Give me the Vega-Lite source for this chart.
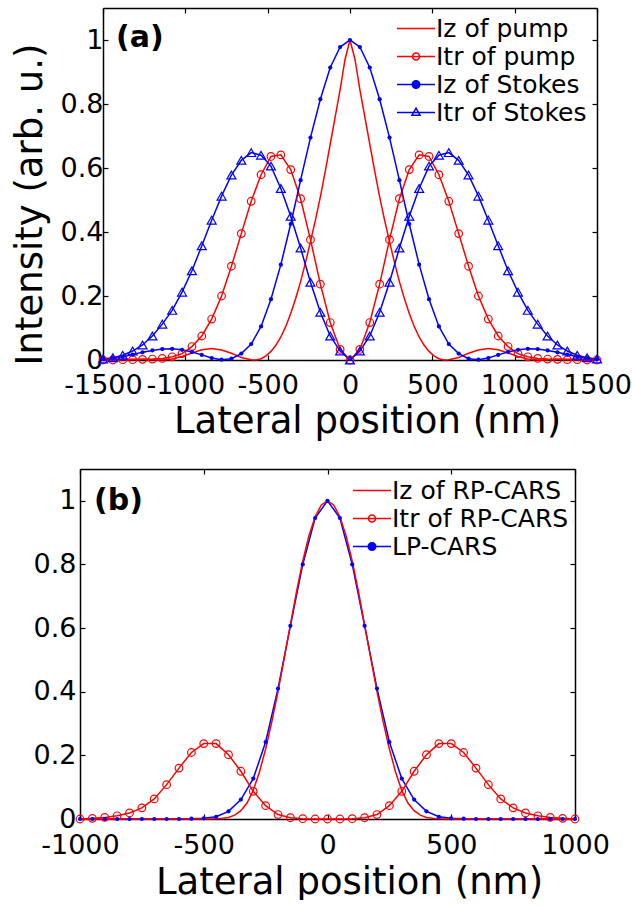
{
  "$schema": "https://vega.github.io/schema/vega-lite/v6.json",
  "background": "white",
  "padding": {"left": 11, "top": 7, "right": 0, "bottom": 0},
  "spacing": 29,
  "columns": 1,
  "resolve": {"scale": {"color": "independent", "shape": "independent"}, "legend": {"color": "independent", "shape": "independent"}},
  "config": {
    "font": "DejaVu Sans",
    "view": {"stroke": null},
    "axis": {"domain": true, "domainColor": "black", "domainWidth": 1.5, "grid": false, "tickColor": "black", "tickSize": -5, "tickWidth": 1.2, "labelFont": "DejaVu Sans", "labelFontSize": 27, "labelColor": "black", "titleFont": "DejaVu Sans", "titleFontSize": 37, "titleFontWeight": "normal", "titleColor": "black", "labelFlush": false, "labelOverlap": false}
  },
  "datasets": {
    "pa": [
      {"s":"Iz of pump","x":-1500,"y":0},{"s":"Iz of pump","x":-1440,"y":0.001},{"s":"Iz of pump","x":-1380,"y":0.002},{"s":"Iz of pump","x":-1320,"y":0.002},{"s":"Iz of pump","x":-1260,"y":0.002},{"s":"Iz of pump","x":-1200,"y":0.001},{"s":"Iz of pump","x":-1140,"y":0},{"s":"Iz of pump","x":-1080,"y":0.003},{"s":"Iz of pump","x":-1020,"y":0.011},{"s":"Iz of pump","x":-960,"y":0.022},{"s":"Iz of pump","x":-900,"y":0.032},{"s":"Iz of pump","x":-840,"y":0.036},{"s":"Iz of pump","x":-780,"y":0.031},{"s":"Iz of pump","x":-720,"y":0.021},{"s":"Iz of pump","x":-660,"y":0.008},{"s":"Iz of pump","x":-600,"y":0.001},{"s":"Iz of pump","x":-570,"y":0},{"s":"Iz of pump","x":-540,"y":0.004},{"s":"Iz of pump","x":-510,"y":0.013},{"s":"Iz of pump","x":-480,"y":0.027},{"s":"Iz of pump","x":-450,"y":0.046},{"s":"Iz of pump","x":-420,"y":0.072},{"s":"Iz of pump","x":-390,"y":0.105},{"s":"Iz of pump","x":-360,"y":0.145},{"s":"Iz of pump","x":-330,"y":0.192},{"s":"Iz of pump","x":-300,"y":0.245},{"s":"Iz of pump","x":-270,"y":0.305},{"s":"Iz of pump","x":-240,"y":0.37},{"s":"Iz of pump","x":-210,"y":0.437},{"s":"Iz of pump","x":-180,"y":0.51},{"s":"Iz of pump","x":-150,"y":0.59},{"s":"Iz of pump","x":-120,"y":0.675},{"s":"Iz of pump","x":-90,"y":0.76},{"s":"Iz of pump","x":-60,"y":0.845},{"s":"Iz of pump","x":-30,"y":0.94},{"s":"Iz of pump","x":0,"y":1},{"s":"Iz of pump","x":30,"y":0.94},{"s":"Iz of pump","x":60,"y":0.845},{"s":"Iz of pump","x":90,"y":0.76},{"s":"Iz of pump","x":120,"y":0.675},{"s":"Iz of pump","x":150,"y":0.59},{"s":"Iz of pump","x":180,"y":0.51},{"s":"Iz of pump","x":210,"y":0.437},{"s":"Iz of pump","x":240,"y":0.37},{"s":"Iz of pump","x":270,"y":0.305},{"s":"Iz of pump","x":300,"y":0.245},{"s":"Iz of pump","x":330,"y":0.192},{"s":"Iz of pump","x":360,"y":0.145},{"s":"Iz of pump","x":390,"y":0.105},{"s":"Iz of pump","x":420,"y":0.072},{"s":"Iz of pump","x":450,"y":0.046},{"s":"Iz of pump","x":480,"y":0.027},{"s":"Iz of pump","x":510,"y":0.013},{"s":"Iz of pump","x":540,"y":0.004},{"s":"Iz of pump","x":570,"y":0},{"s":"Iz of pump","x":600,"y":0.001},{"s":"Iz of pump","x":660,"y":0.008},{"s":"Iz of pump","x":720,"y":0.021},{"s":"Iz of pump","x":780,"y":0.031},{"s":"Iz of pump","x":840,"y":0.036},{"s":"Iz of pump","x":900,"y":0.032},{"s":"Iz of pump","x":960,"y":0.022},{"s":"Iz of pump","x":1020,"y":0.011},{"s":"Iz of pump","x":1080,"y":0.003},{"s":"Iz of pump","x":1140,"y":0},{"s":"Iz of pump","x":1200,"y":0.001},{"s":"Iz of pump","x":1260,"y":0.002},{"s":"Iz of pump","x":1320,"y":0.002},{"s":"Iz of pump","x":1380,"y":0.002},{"s":"Iz of pump","x":1440,"y":0.001},{"s":"Iz of pump","x":1500,"y":0},

      {"s":"Itr of pump","x":-1500,"y":0},{"s":"Itr of pump","x":-1440,"y":0},{"s":"Itr of pump","x":-1380,"y":0.001},{"s":"Itr of pump","x":-1320,"y":0.001},{"s":"Itr of pump","x":-1260,"y":0.002},{"s":"Itr of pump","x":-1200,"y":0.003},{"s":"Itr of pump","x":-1140,"y":0.005},{"s":"Itr of pump","x":-1080,"y":0.01},{"s":"Itr of pump","x":-1020,"y":0.02},{"s":"Itr of pump","x":-960,"y":0.042},{"s":"Itr of pump","x":-900,"y":0.075},{"s":"Itr of pump","x":-840,"y":0.128},{"s":"Itr of pump","x":-780,"y":0.2},{"s":"Itr of pump","x":-720,"y":0.293},{"s":"Itr of pump","x":-660,"y":0.395},{"s":"Itr of pump","x":-600,"y":0.496},{"s":"Itr of pump","x":-540,"y":0.579},{"s":"Itr of pump","x":-480,"y":0.636},{"s":"Itr of pump","x":-420,"y":0.641},{"s":"Itr of pump","x":-360,"y":0.595},{"s":"Itr of pump","x":-300,"y":0.504},{"s":"Itr of pump","x":-240,"y":0.376},{"s":"Itr of pump","x":-180,"y":0.237},{"s":"Itr of pump","x":-120,"y":0.117},{"s":"Itr of pump","x":-60,"y":0.033},{"s":"Itr of pump","x":0,"y":0},{"s":"Itr of pump","x":60,"y":0.033},{"s":"Itr of pump","x":120,"y":0.117},{"s":"Itr of pump","x":180,"y":0.237},{"s":"Itr of pump","x":240,"y":0.376},{"s":"Itr of pump","x":300,"y":0.504},{"s":"Itr of pump","x":360,"y":0.595},{"s":"Itr of pump","x":420,"y":0.641},{"s":"Itr of pump","x":480,"y":0.636},{"s":"Itr of pump","x":540,"y":0.579},{"s":"Itr of pump","x":600,"y":0.496},{"s":"Itr of pump","x":660,"y":0.395},{"s":"Itr of pump","x":720,"y":0.293},{"s":"Itr of pump","x":780,"y":0.2},{"s":"Itr of pump","x":840,"y":0.128},{"s":"Itr of pump","x":900,"y":0.075},{"s":"Itr of pump","x":960,"y":0.042},{"s":"Itr of pump","x":1020,"y":0.02},{"s":"Itr of pump","x":1080,"y":0.01},{"s":"Itr of pump","x":1140,"y":0.005},{"s":"Itr of pump","x":1200,"y":0.003},{"s":"Itr of pump","x":1260,"y":0.002},{"s":"Itr of pump","x":1320,"y":0.001},{"s":"Itr of pump","x":1380,"y":0.001},{"s":"Itr of pump","x":1440,"y":0},{"s":"Itr of pump","x":1500,"y":0},

      {"s":"Iz of Stokes","x":-1500,"y":0.002},{"s":"Iz of Stokes","x":-1440,"y":0.005},{"s":"Iz of Stokes","x":-1380,"y":0.01},{"s":"Iz of Stokes","x":-1320,"y":0.017},{"s":"Iz of Stokes","x":-1260,"y":0.024},{"s":"Iz of Stokes","x":-1200,"y":0.03},{"s":"Iz of Stokes","x":-1140,"y":0.034},{"s":"Iz of Stokes","x":-1080,"y":0.035},{"s":"Iz of Stokes","x":-1020,"y":0.032},{"s":"Iz of Stokes","x":-960,"y":0.025},{"s":"Iz of Stokes","x":-900,"y":0.016},{"s":"Iz of Stokes","x":-840,"y":0.006},{"s":"Iz of Stokes","x":-780,"y":0.001},{"s":"Iz of Stokes","x":-720,"y":0.004},{"s":"Iz of Stokes","x":-660,"y":0.02},{"s":"Iz of Stokes","x":-600,"y":0.05},{"s":"Iz of Stokes","x":-540,"y":0.105},{"s":"Iz of Stokes","x":-480,"y":0.19},{"s":"Iz of Stokes","x":-420,"y":0.298},{"s":"Iz of Stokes","x":-360,"y":0.425},{"s":"Iz of Stokes","x":-300,"y":0.562},{"s":"Iz of Stokes","x":-240,"y":0.695},{"s":"Iz of Stokes","x":-180,"y":0.815},{"s":"Iz of Stokes","x":-120,"y":0.914},{"s":"Iz of Stokes","x":-60,"y":0.978},{"s":"Iz of Stokes","x":0,"y":1},{"s":"Iz of Stokes","x":60,"y":0.978},{"s":"Iz of Stokes","x":120,"y":0.914},{"s":"Iz of Stokes","x":180,"y":0.815},{"s":"Iz of Stokes","x":240,"y":0.695},{"s":"Iz of Stokes","x":300,"y":0.562},{"s":"Iz of Stokes","x":360,"y":0.425},{"s":"Iz of Stokes","x":420,"y":0.298},{"s":"Iz of Stokes","x":480,"y":0.19},{"s":"Iz of Stokes","x":540,"y":0.105},{"s":"Iz of Stokes","x":600,"y":0.05},{"s":"Iz of Stokes","x":660,"y":0.02},{"s":"Iz of Stokes","x":720,"y":0.004},{"s":"Iz of Stokes","x":780,"y":0.001},{"s":"Iz of Stokes","x":840,"y":0.006},{"s":"Iz of Stokes","x":900,"y":0.016},{"s":"Iz of Stokes","x":960,"y":0.025},{"s":"Iz of Stokes","x":1020,"y":0.032},{"s":"Iz of Stokes","x":1080,"y":0.035},{"s":"Iz of Stokes","x":1140,"y":0.034},{"s":"Iz of Stokes","x":1200,"y":0.03},{"s":"Iz of Stokes","x":1260,"y":0.024},{"s":"Iz of Stokes","x":1320,"y":0.017},{"s":"Iz of Stokes","x":1380,"y":0.01},{"s":"Iz of Stokes","x":1440,"y":0.005},{"s":"Iz of Stokes","x":1500,"y":0.002},

      {"s":"Itr of Stokes","x":-1500,"y":0.003},{"s":"Itr of Stokes","x":-1440,"y":0.007},{"s":"Itr of Stokes","x":-1380,"y":0.015},{"s":"Itr of Stokes","x":-1320,"y":0.028},{"s":"Itr of Stokes","x":-1260,"y":0.047},{"s":"Itr of Stokes","x":-1200,"y":0.075},{"s":"Itr of Stokes","x":-1140,"y":0.112},{"s":"Itr of Stokes","x":-1080,"y":0.155},{"s":"Itr of Stokes","x":-1020,"y":0.212},{"s":"Itr of Stokes","x":-960,"y":0.279},{"s":"Itr of Stokes","x":-900,"y":0.357},{"s":"Itr of Stokes","x":-840,"y":0.437},{"s":"Itr of Stokes","x":-780,"y":0.512},{"s":"Itr of Stokes","x":-720,"y":0.578},{"s":"Itr of Stokes","x":-660,"y":0.624},{"s":"Itr of Stokes","x":-600,"y":0.648},{"s":"Itr of Stokes","x":-540,"y":0.64},{"s":"Itr of Stokes","x":-480,"y":0.606},{"s":"Itr of Stokes","x":-420,"y":0.536},{"s":"Itr of Stokes","x":-360,"y":0.449},{"s":"Itr of Stokes","x":-300,"y":0.35},{"s":"Itr of Stokes","x":-240,"y":0.243},{"s":"Itr of Stokes","x":-180,"y":0.149},{"s":"Itr of Stokes","x":-120,"y":0.075},{"s":"Itr of Stokes","x":-60,"y":0.028},{"s":"Itr of Stokes","x":0,"y":0},{"s":"Itr of Stokes","x":60,"y":0.028},{"s":"Itr of Stokes","x":120,"y":0.075},{"s":"Itr of Stokes","x":180,"y":0.149},{"s":"Itr of Stokes","x":240,"y":0.243},{"s":"Itr of Stokes","x":300,"y":0.35},{"s":"Itr of Stokes","x":360,"y":0.449},{"s":"Itr of Stokes","x":420,"y":0.536},{"s":"Itr of Stokes","x":480,"y":0.606},{"s":"Itr of Stokes","x":540,"y":0.64},{"s":"Itr of Stokes","x":600,"y":0.648},{"s":"Itr of Stokes","x":660,"y":0.624},{"s":"Itr of Stokes","x":720,"y":0.578},{"s":"Itr of Stokes","x":780,"y":0.512},{"s":"Itr of Stokes","x":840,"y":0.437},{"s":"Itr of Stokes","x":900,"y":0.357},{"s":"Itr of Stokes","x":960,"y":0.279},{"s":"Itr of Stokes","x":1020,"y":0.212},{"s":"Itr of Stokes","x":1080,"y":0.155},{"s":"Itr of Stokes","x":1140,"y":0.112},{"s":"Itr of Stokes","x":1200,"y":0.075},{"s":"Itr of Stokes","x":1260,"y":0.047},{"s":"Itr of Stokes","x":1320,"y":0.028},{"s":"Itr of Stokes","x":1380,"y":0.015},{"s":"Itr of Stokes","x":1440,"y":0.007},{"s":"Itr of Stokes","x":1500,"y":0.003}
    ],
    "pb": [
      {"s":"Iz of RP-CARS","x":-1000,"y":0},{"s":"Iz of RP-CARS","x":-900,"y":0},{"s":"Iz of RP-CARS","x":-800,"y":0},{"s":"Iz of RP-CARS","x":-700,"y":0},{"s":"Iz of RP-CARS","x":-600,"y":0},{"s":"Iz of RP-CARS","x":-500,"y":0},{"s":"Iz of RP-CARS","x":-450,"y":0.001},{"s":"Iz of RP-CARS","x":-425,"y":0.002},{"s":"Iz of RP-CARS","x":-400,"y":0.005},{"s":"Iz of RP-CARS","x":-375,"y":0.012},{"s":"Iz of RP-CARS","x":-350,"y":0.026},{"s":"Iz of RP-CARS","x":-325,"y":0.05},{"s":"Iz of RP-CARS","x":-300,"y":0.09},{"s":"Iz of RP-CARS","x":-275,"y":0.148},{"s":"Iz of RP-CARS","x":-250,"y":0.22},{"s":"Iz of RP-CARS","x":-225,"y":0.305},{"s":"Iz of RP-CARS","x":-200,"y":0.4},{"s":"Iz of RP-CARS","x":-175,"y":0.505},{"s":"Iz of RP-CARS","x":-150,"y":0.61},{"s":"Iz of RP-CARS","x":-125,"y":0.715},{"s":"Iz of RP-CARS","x":-100,"y":0.81},{"s":"Iz of RP-CARS","x":-75,"y":0.89},{"s":"Iz of RP-CARS","x":-50,"y":0.95},{"s":"Iz of RP-CARS","x":-25,"y":0.987},{"s":"Iz of RP-CARS","x":0,"y":1},{"s":"Iz of RP-CARS","x":25,"y":0.987},{"s":"Iz of RP-CARS","x":50,"y":0.95},{"s":"Iz of RP-CARS","x":75,"y":0.89},{"s":"Iz of RP-CARS","x":100,"y":0.81},{"s":"Iz of RP-CARS","x":125,"y":0.715},{"s":"Iz of RP-CARS","x":150,"y":0.61},{"s":"Iz of RP-CARS","x":175,"y":0.505},{"s":"Iz of RP-CARS","x":200,"y":0.4},{"s":"Iz of RP-CARS","x":225,"y":0.305},{"s":"Iz of RP-CARS","x":250,"y":0.22},{"s":"Iz of RP-CARS","x":275,"y":0.148},{"s":"Iz of RP-CARS","x":300,"y":0.09},{"s":"Iz of RP-CARS","x":325,"y":0.05},{"s":"Iz of RP-CARS","x":350,"y":0.026},{"s":"Iz of RP-CARS","x":375,"y":0.012},{"s":"Iz of RP-CARS","x":400,"y":0.005},{"s":"Iz of RP-CARS","x":425,"y":0.002},{"s":"Iz of RP-CARS","x":450,"y":0.001},{"s":"Iz of RP-CARS","x":500,"y":0},{"s":"Iz of RP-CARS","x":600,"y":0},{"s":"Iz of RP-CARS","x":700,"y":0},{"s":"Iz of RP-CARS","x":800,"y":0},{"s":"Iz of RP-CARS","x":900,"y":0},{"s":"Iz of RP-CARS","x":1000,"y":0},

      {"s":"Itr of RP-CARS","x":-1000,"y":0},{"s":"Itr of RP-CARS","x":-950,"y":0.002},{"s":"Itr of RP-CARS","x":-900,"y":0.005},{"s":"Itr of RP-CARS","x":-850,"y":0.01},{"s":"Itr of RP-CARS","x":-800,"y":0.019},{"s":"Itr of RP-CARS","x":-750,"y":0.035},{"s":"Itr of RP-CARS","x":-700,"y":0.063},{"s":"Itr of RP-CARS","x":-650,"y":0.108},{"s":"Itr of RP-CARS","x":-600,"y":0.16},{"s":"Itr of RP-CARS","x":-550,"y":0.209},{"s":"Itr of RP-CARS","x":-500,"y":0.237},{"s":"Itr of RP-CARS","x":-450,"y":0.237},{"s":"Itr of RP-CARS","x":-400,"y":0.202},{"s":"Itr of RP-CARS","x":-350,"y":0.15},{"s":"Itr of RP-CARS","x":-300,"y":0.087},{"s":"Itr of RP-CARS","x":-250,"y":0.042},{"s":"Itr of RP-CARS","x":-200,"y":0.014},{"s":"Itr of RP-CARS","x":-150,"y":0.004},{"s":"Itr of RP-CARS","x":-100,"y":0.001},{"s":"Itr of RP-CARS","x":-50,"y":0},{"s":"Itr of RP-CARS","x":0,"y":0},{"s":"Itr of RP-CARS","x":50,"y":0},{"s":"Itr of RP-CARS","x":100,"y":0.001},{"s":"Itr of RP-CARS","x":150,"y":0.004},{"s":"Itr of RP-CARS","x":200,"y":0.014},{"s":"Itr of RP-CARS","x":250,"y":0.042},{"s":"Itr of RP-CARS","x":300,"y":0.087},{"s":"Itr of RP-CARS","x":350,"y":0.15},{"s":"Itr of RP-CARS","x":400,"y":0.202},{"s":"Itr of RP-CARS","x":450,"y":0.237},{"s":"Itr of RP-CARS","x":500,"y":0.237},{"s":"Itr of RP-CARS","x":550,"y":0.209},{"s":"Itr of RP-CARS","x":600,"y":0.16},{"s":"Itr of RP-CARS","x":650,"y":0.108},{"s":"Itr of RP-CARS","x":700,"y":0.063},{"s":"Itr of RP-CARS","x":750,"y":0.035},{"s":"Itr of RP-CARS","x":800,"y":0.019},{"s":"Itr of RP-CARS","x":850,"y":0.01},{"s":"Itr of RP-CARS","x":900,"y":0.005},{"s":"Itr of RP-CARS","x":950,"y":0.002},{"s":"Itr of RP-CARS","x":1000,"y":0},

      {"s":"LP-CARS","x":-1000,"y":0},{"s":"LP-CARS","x":-950,"y":0},{"s":"LP-CARS","x":-900,"y":0},{"s":"LP-CARS","x":-850,"y":0},{"s":"LP-CARS","x":-800,"y":0},{"s":"LP-CARS","x":-750,"y":0},{"s":"LP-CARS","x":-700,"y":0},{"s":"LP-CARS","x":-650,"y":0},{"s":"LP-CARS","x":-600,"y":0},{"s":"LP-CARS","x":-550,"y":0.001},{"s":"LP-CARS","x":-500,"y":0.002},{"s":"LP-CARS","x":-450,"y":0.007},{"s":"LP-CARS","x":-400,"y":0.024},{"s":"LP-CARS","x":-350,"y":0.061},{"s":"LP-CARS","x":-300,"y":0.127},{"s":"LP-CARS","x":-250,"y":0.242},{"s":"LP-CARS","x":-200,"y":0.41},{"s":"LP-CARS","x":-150,"y":0.607},{"s":"LP-CARS","x":-100,"y":0.8},{"s":"LP-CARS","x":-50,"y":0.946},{"s":"LP-CARS","x":0,"y":1},{"s":"LP-CARS","x":50,"y":0.946},{"s":"LP-CARS","x":100,"y":0.8},{"s":"LP-CARS","x":150,"y":0.607},{"s":"LP-CARS","x":200,"y":0.41},{"s":"LP-CARS","x":250,"y":0.242},{"s":"LP-CARS","x":300,"y":0.127},{"s":"LP-CARS","x":350,"y":0.061},{"s":"LP-CARS","x":400,"y":0.024},{"s":"LP-CARS","x":450,"y":0.007},{"s":"LP-CARS","x":500,"y":0.002},{"s":"LP-CARS","x":550,"y":0.001},{"s":"LP-CARS","x":600,"y":0},{"s":"LP-CARS","x":650,"y":0},{"s":"LP-CARS","x":700,"y":0},{"s":"LP-CARS","x":750,"y":0},{"s":"LP-CARS","x":800,"y":0},{"s":"LP-CARS","x":850,"y":0},{"s":"LP-CARS","x":900,"y":0},{"s":"LP-CARS","x":950,"y":0},{"s":"LP-CARS","x":1000,"y":0}
    ]
  },
  "concat": [
    {
      "width": 517,
      "height": 352,
      "data": {"name": "pa"},
      "resolve": {"axis": {"x": "independent", "y": "independent"}},
      "layer": [
        {
          "transform": [{"filter": "datum.s === 'Iz of pump' || datum.s === 'Itr of pump'"}],
          "mark": {"type": "line", "strokeWidth": 1.5, "color": "#ff0000"},
          "encoding": {
            "x": {"field": "x", "type": "quantitative", "scale": {"domain": [-1500, 1500], "range": [23, 517], "nice": false, "zero": false},
                  "axis": {"orient": "bottom", "values": [-1500, -1000, -500, 0, 500, 1000, 1500], "labelExpr": "'' + datum.value", "labelPadding": 17, "title": "Lateral position (nm)", "titleX": 287, "titleY": 72, "titleBaseline": "alphabetic"}},
            "y": {"field": "y", "type": "quantitative", "scale": {"domain": [0, 1.1], "nice": false},
                  "axis": {"orient": "left", "offset": -23, "values": [0, 0.2, 0.4, 0.6, 0.8, 1], "labelExpr": "'' + datum.value", "labelPadding": 5, "title": "Intensity (arb. u.)", "titleX": -62, "titleY": 196, "titleBaseline": "alphabetic", "titleAngle": -90}},
            "detail": {"field": "s", "type": "nominal"}
          }
        },
        {
          "transform": [{"filter": "datum.s === 'Iz of Stokes' || datum.s === 'Itr of Stokes'"}],
          "mark": {"type": "line", "strokeWidth": 1.5, "color": "#0000ff"},
          "encoding": {
            "x": {"field": "x", "type": "quantitative", "axis": null},
            "y": {"field": "y", "type": "quantitative", "axis": null},
            "detail": {"field": "s", "type": "nominal"}
          }
        },
        {
          "transform": [{"filter": "datum.s === 'Itr of pump'"}],
          "mark": {"type": "point", "shape": "circle", "filled": false, "size": 58, "strokeWidth": 1.2, "opacity": 1, "color": "#ff0000"},
          "encoding": {
            "x": {"field": "x", "type": "quantitative", "axis": {"orient": "top", "values": [-1500, -1000, -500, 0, 500, 1000, 1500], "labels": false, "title": null}},
            "y": {"field": "y", "type": "quantitative", "axis": {"orient": "right", "values": [0, 0.2, 0.4, 0.6, 0.8, 1], "labels": false, "title": null}}
          }
        },
        {
          "transform": [{"filter": "datum.s === 'Itr of Stokes'"}],
          "mark": {"type": "point", "shape": "triangle-up", "filled": false, "size": 80, "strokeWidth": 1.2, "opacity": 1, "color": "#0000ff"},
          "encoding": {
            "x": {"field": "x", "type": "quantitative", "axis": null},
            "y": {"field": "y", "type": "quantitative", "axis": null}
          }
        },
        {
          "transform": [{"filter": "datum.s === 'Iz of Stokes'"}],
          "mark": {"type": "circle", "size": 18, "opacity": 1, "color": "#0000ff"},
          "encoding": {
            "x": {"field": "x", "type": "quantitative", "axis": null},
            "y": {"field": "y", "type": "quantitative", "axis": null}
          }
        },
        {
          "data": {"values": [{"label": "(a)"}]},
          "mark": {"type": "text", "align": "left", "baseline": "alphabetic", "dx": 13, "dy": 39, "font": "DejaVu Sans", "fontSize": 30, "fontWeight": "bold", "color": "black"},
          "encoding": {
            "text": {"field": "label"},
            "x": {"datum": -1500, "type": "quantitative", "axis": null},
            "y": {"datum": 1.1, "type": "quantitative", "axis": null}
          }
        },
        {
          "transform": [{"filter": "false"}],
          "mark": {"type": "point", "filled": false, "opacity": 1},
          "encoding": {
            "x": {"field": "x", "type": "quantitative", "axis": null},
            "y": {"field": "y", "type": "quantitative", "axis": null},
            "color": {"field": "s", "type": "nominal",
                      "scale": {"domain": ["Iz of pump", "Itr of pump", "Iz of Stokes", "Itr of Stokes"], "range": ["#ff0000", "#ff0000", "#0000ff", "#0000ff"]},
                      "legend": {"orient": "none", "legendX": 314, "legendY": 8, "title": null, "labelFont": "DejaVu Sans", "labelFontSize": 25, "labelColor": "black", "symbolSize": 361, "symbolStrokeWidth": 1.5, "symbolOpacity": 1, "labelOffset": 17, "rowPadding": 2, "padding": 0, "labelLimit": 400}},
            "shape": {"field": "s", "type": "nominal",
                      "scale": {"domain": ["Iz of pump", "Itr of pump", "Iz of Stokes", "Itr of Stokes"],
                                "range": ["M-1,0L3,0",
                                          "M-1,0L3,0M1.37,0A0.37,0.37 0 1,1 0.63,0A0.37,0.37 0 1,1 1.37,0",
                                          "M-1,0L3,0M1.4,0A0.4,0.4 0 1,1 0.6,0A0.4,0.4 0 1,1 1.4,0M1.25,0A0.25,0.25 0 1,1 0.75,0A0.25,0.25 0 1,1 1.25,0M1.1,0A0.1,0.1 0 1,1 0.9,0A0.1,0.1 0 1,1 1.1,0",
                                          "M-1,0L3,0M1,-0.45L1.42,0.28L0.58,0.28Z"]},
                      "legend": {"orient": "none", "legendX": 314, "legendY": 8, "title": null, "labelFont": "DejaVu Sans", "labelFontSize": 25, "labelColor": "black", "symbolSize": 361, "symbolStrokeWidth": 1.5, "symbolOpacity": 1, "labelOffset": 17, "rowPadding": 2, "padding": 0, "labelLimit": 400}}
          }
        }
      ]
    },
    {
      "width": 495,
      "height": 350,
      "data": {"name": "pb"},
      "resolve": {"axis": {"x": "independent", "y": "independent"}},
      "layer": [
        {
          "transform": [{"filter": "datum.s === 'LP-CARS'"}],
          "mark": {"type": "line", "strokeWidth": 1.5, "color": "#0000ff"},
          "encoding": {
            "x": {"field": "x", "type": "quantitative", "scale": {"domain": [-1000, 1000], "nice": false, "zero": false},
                  "axis": {"orient": "bottom", "values": [-1000, -500, 0, 500, 1000], "labelExpr": "'' + datum.value", "labelPadding": 18, "title": "Lateral position (nm)", "titleX": 269, "titleY": 74, "titleBaseline": "alphabetic"}},
            "y": {"field": "y", "type": "quantitative", "scale": {"domain": [0, 1.1], "nice": false},
                  "axis": {"orient": "left", "values": [0, 0.2, 0.4, 0.6, 0.8, 1], "labelExpr": "'' + datum.value", "labelPadding": 9, "title": null}}
          }
        },
        {
          "transform": [{"filter": "datum.s === 'Iz of RP-CARS' || datum.s === 'Itr of RP-CARS'"}],
          "mark": {"type": "line", "strokeWidth": 1.5, "color": "#ff0000"},
          "encoding": {
            "x": {"field": "x", "type": "quantitative", "axis": null},
            "y": {"field": "y", "type": "quantitative", "axis": null},
            "detail": {"field": "s", "type": "nominal"}
          }
        },
        {
          "transform": [{"filter": "datum.s === 'Itr of RP-CARS'"}],
          "mark": {"type": "point", "shape": "circle", "filled": false, "size": 58, "strokeWidth": 1.2, "opacity": 1, "color": "#ff0000"},
          "encoding": {
            "x": {"field": "x", "type": "quantitative", "axis": {"orient": "top", "values": [-1000, -500, 0, 500, 1000], "labels": false, "title": null}},
            "y": {"field": "y", "type": "quantitative", "axis": {"orient": "right", "values": [0, 0.2, 0.4, 0.6, 0.8, 1], "labels": false, "title": null}}
          }
        },
        {
          "transform": [{"filter": "datum.s === 'LP-CARS'"}],
          "mark": {"type": "circle", "size": 18, "opacity": 1, "color": "#0000ff"},
          "encoding": {
            "x": {"field": "x", "type": "quantitative", "axis": null},
            "y": {"field": "y", "type": "quantitative", "axis": null}
          }
        },
        {
          "data": {"values": [{"label": "(b)"}]},
          "mark": {"type": "text", "align": "left", "baseline": "alphabetic", "dx": 14, "dy": 41, "font": "DejaVu Sans", "fontSize": 30, "fontWeight": "bold", "color": "black"},
          "encoding": {
            "text": {"field": "label"},
            "x": {"datum": -1000, "type": "quantitative", "axis": null},
            "y": {"datum": 1.1, "type": "quantitative", "axis": null}
          }
        },
        {
          "transform": [{"filter": "false"}],
          "mark": {"type": "point", "filled": false, "opacity": 1},
          "encoding": {
            "x": {"field": "x", "type": "quantitative", "axis": null},
            "y": {"field": "y", "type": "quantitative", "axis": null},
            "color": {"field": "s", "type": "nominal",
                      "scale": {"domain": ["Iz of RP-CARS", "Itr of RP-CARS", "LP-CARS"], "range": ["#ff0000", "#ff0000", "#0000ff"]},
                      "legend": {"orient": "none", "legendX": 270, "legendY": 9, "title": null, "labelFont": "DejaVu Sans", "labelFontSize": 25, "labelColor": "black", "symbolSize": 361, "symbolStrokeWidth": 1.5, "symbolOpacity": 1, "labelOffset": 17, "rowPadding": 2, "padding": 0, "labelLimit": 400}},
            "shape": {"field": "s", "type": "nominal",
                      "scale": {"domain": ["Iz of RP-CARS", "Itr of RP-CARS", "LP-CARS"],
                                "range": ["M-1,0L3,0",
                                          "M-1,0L3,0M1.37,0A0.37,0.37 0 1,1 0.63,0A0.37,0.37 0 1,1 1.37,0",
                                          "M-1,0L3,0M1.4,0A0.4,0.4 0 1,1 0.6,0A0.4,0.4 0 1,1 1.4,0M1.25,0A0.25,0.25 0 1,1 0.75,0A0.25,0.25 0 1,1 1.25,0M1.1,0A0.1,0.1 0 1,1 0.9,0A0.1,0.1 0 1,1 1.1,0"]},
                      "legend": {"orient": "none", "legendX": 270, "legendY": 9, "title": null, "labelFont": "DejaVu Sans", "labelFontSize": 25, "labelColor": "black", "symbolSize": 361, "symbolStrokeWidth": 1.5, "symbolOpacity": 1, "labelOffset": 17, "rowPadding": 2, "padding": 0, "labelLimit": 400}}
          }
        }
      ]
    }
  ]
}
